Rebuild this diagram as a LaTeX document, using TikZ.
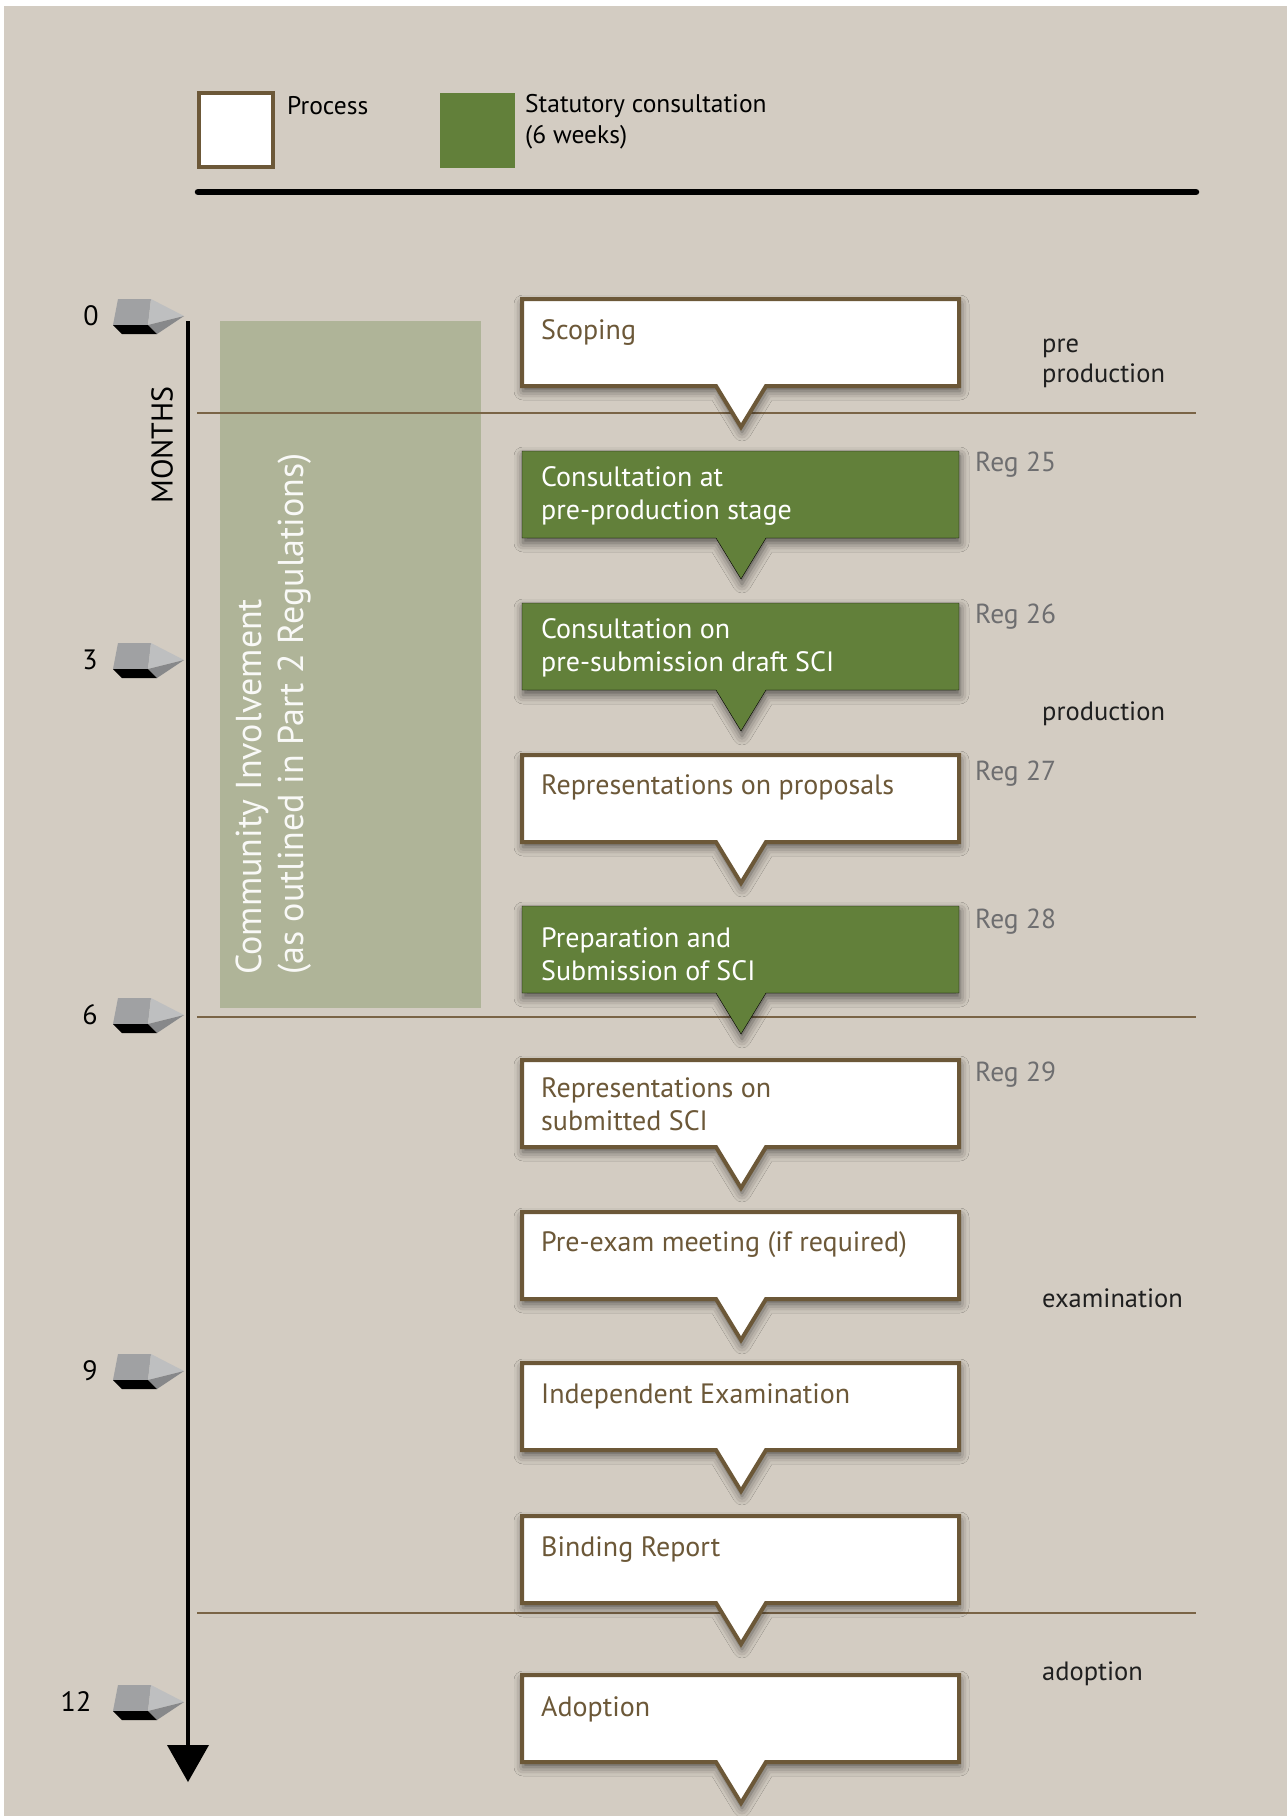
\documentclass[tikz,border=0pt]{standalone}
\usepackage{fontspec}
\setmainfont{PT Sans}
\usepackage{tikz}
\usetikzlibrary{positioning, calc, arrows.meta, shadows.blur}
\definecolor{stonebg}{RGB}{211,204,194}
\definecolor{mossgreen}{RGB}{98,128,58}
\definecolor{sagegreen}{RGB}{175,180,152}
\definecolor{barkbrown}{RGB}{108,88,56}
\definecolor{rulebrown}{RGB}{122,100,70}
\definecolor{reggray}{RGB}{110,110,112}
\definecolor{markbody}{RGB}{160,161,163}
\definecolor{marktip}{RGB}{190,191,192}
\definecolor{markside}{RGB}{135,136,138}
\newcommand{\boxfont}{\fontsize{28}{33}\selectfont}
\newcommand{\regfont}{\fontsize{27.5}{30}\selectfont}
\newcommand{\stagefont}{\fontsize{26.5}{30}\selectfont}
\newcommand{\legendfont}{\fontsize{25.5}{31}\selectfont}
\newcommand{\commfont}{\fontsize{36}{42}\selectfont}
\newcommand{\axisfont}{\fontsize{28}{30}\selectfont}
\newcommand{\Callout}[2]{\draw[#2] (522,#1) -- (959,#1) -- (959,#1+87) -- (766,#1+87) -- (741,#1+128) -- (716,#1+87) -- (522,#1+87) -- cycle;}
\newcommand{\Tick}[3]{%
    \fill[markbody] (118,#1-17) -- (151,#1-17) -- (148,#1+9) -- (113,#1+9) -- cycle;
    \fill[marktip] (151,#1-17) -- (184,#1) -- (148,#1+9) -- cycle;
    \fill[markside] (148,#1+9) -- (184,#1) -- (157,#1+18) -- cycle;
    \fill[black] (113,#1+9) -- (122,#1+18) -- (157,#1+18) -- (148,#1+9) -- cycle;
    \draw(#3,#1) node[font=\axisfont, inner sep=0pt] (t#2) {#2};}

\begin{document}
\begin{tikzpicture}[>=latex, x=1pt, y=-1pt,
    procbox/.style={draw=barkbrown, line width=4pt, fill=white, blur shadow={shadow xshift=1pt, shadow yshift=-5pt, shadow blur radius=9pt, shadow opacity=60}},
    consbox/.style={fill=mossgreen, blur shadow={shadow xshift=1pt, shadow yshift=-5pt, shadow blur radius=9pt, shadow opacity=60}},
    proctext/.style={anchor=west, inner sep=0pt, align=left, text=barkbrown, font=\boxfont},
    constext/.style={proctext, text=white},
    regtext/.style={anchor=west, inner sep=0pt, text=reggray, font=\regfont},
    stagetext/.style={anchor=west, inner sep=0pt, align=left, text=black!88, font=\stagefont},
    divider/.style={draw=rulebrown, line width=1.6pt}]

    \useasboundingbox (0,0) rectangle (1287,1816);
    \fill[white] (0,0) rectangle (1287,1816);
    \fill[stonebg] (4,6) rectangle (1287,1816);

    \draw[draw=barkbrown, line width=4pt, fill=white] (199,93) rectangle (273,167);
    \fill[mossgreen] (440,93) rectangle (515,168);
    \draw(287,106) node[anchor=west, inner sep=0pt, font=\legendfont] (lproc) {Process};
    \draw(525,122) node[anchor=west, inner sep=0pt, align=left, font=\legendfont] (lcons) {Statutory consultation\\(6 weeks)};
    \draw[line width=6.5pt, line cap=round] (198,192) -- (1196,192);

    \fill[sagegreen] (220,321) rectangle (481,1008);
    \draw(274,975) node[rotate=90, anchor=west, inner sep=0pt, align=left, text=white!92!sagegreen, font=\commfont] (community) {Community Involvement\\(as outlined in Part 2 Regulations)};

    \draw[divider] (197,413) -- (1196,413);
    \draw[divider] (197,1017) -- (1196,1017);
    \draw[divider] (197,1613) -- (1196,1613);

    \Callout{299}{procbox}
    \Callout{451}{consbox}
    \Callout{603}{consbox}
    \Callout{755}{procbox}
    \Callout{906}{consbox}
    \Callout{1060}{procbox}
    \Callout{1212}{procbox}
    \Callout{1363}{procbox}
    \Callout{1516}{procbox}
    \Callout{1675}{procbox}

    \draw(541,332) node[proctext] (scoping) {Scoping};
    \draw(541,496) node[constext] (consult1) {Consultation at\\pre-production stage};
    \draw(541,648) node[constext] (consult2) {Consultation on\\pre-submission draft SCI};
    \draw(541,787) node[proctext] (repprop) {Representations on proposals};
    \draw(541,954) node[constext] (prepsub) {Preparation and\\Submission of SCI};
    \draw(541,1104) node[proctext] (repsub) {Representations on\\submitted SCI};
    \draw(541,1245) node[proctext] (preexam) {Pre-exam meeting (if required)};
    \draw(541,1396) node[proctext] (indexam) {Independent Examination};
    \draw(541,1550) node[proctext] (binding) {Binding Report};
    \draw(541,1709) node[proctext] (adoption) {Adoption};

    \draw(975,465) node[regtext] (reg25) {Reg 25};
    \draw(975,617) node[regtext] (reg26) {Reg 26};
    \draw(975,774) node[regtext] (reg27) {Reg 27};
    \draw(975,922) node[regtext] (reg28) {Reg 28};
    \draw(975,1075) node[regtext] (reg29) {Reg 29};

    \draw(1042,363) node[stagetext] (preprod) {pre\\production};
    \draw(1042,714) node[stagetext] (prod) {production};
    \draw(1042,1298) node[stagetext] (exam) {examination};
    \draw(1042,1674) node[stagetext] (adopt) {adoption};

    \Tick{316}{0}{91}
    \Tick{660}{3}{90}
    \Tick{1015}{6}{90}
    \Tick{1371}{9}{90}
    \Tick{1702}{12}{76}
    \coordinate (axtop) at (188,321);
    \coordinate (axend) at (188,1782);
    \draw[line width=4pt, -{Triangle[width=42pt, length=37pt, line width=0pt, fill=black]}] (axtop) -- (axend);
    \draw(162,445) node[rotate=90, inner sep=0pt, font=\fontsize{30}{32}\selectfont] (months) {MONTHS};

\end{tikzpicture}
\end{document}
